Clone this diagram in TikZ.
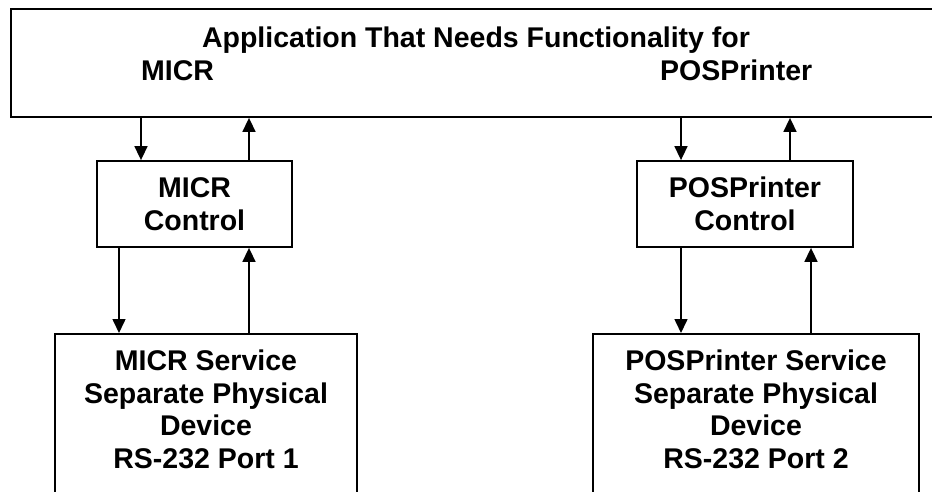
\documentclass[tikz,border=0pt]{standalone}
\usepackage{fontspec}
\setmainfont{Liberation Sans}
\usetikzlibrary{arrows.meta}
\begin{document}
\begin{tikzpicture}[x=1pt,y=-1pt,
  box/.style={draw=black, line width=1.8pt, rectangle, inner sep=0pt, align=center},
  lbl/.style={inner sep=0pt, font=\bfseries\fontsize{28.5}{32.5}\selectfont, align=center},
  arr/.style={line width=1.6pt, -{Triangle[length=14pt,width=13pt]}}]
\useasboundingbox (0,0) rectangle (932,491);
% top application box
\node[box, minimum width=939pt, minimum height=108pt] (app) at (480.5,63) {};
\node[lbl, anchor=base] (apptxt) at (476,47) {Application That Needs Functionality for};
\node[lbl, anchor=base west] (appmicr) at (141,80) {MICR};
\node[lbl, anchor=base west] (apppos) at (660,80) {POSPrinter};
% control boxes
\node[box, lbl, draw=black, line width=1.8pt, minimum width=195pt, minimum height=86pt] (mc) at (194.5,204) {MICR\\Control};
\node[box, lbl, draw=black, line width=1.8pt, minimum width=216pt, minimum height=86pt] (pc) at (745,204) {POSPrinter\\Control};
% service boxes (run past the lower edge of the picture)
\node[box, anchor=north, minimum width=302pt, minimum height=220pt] (ms) at (206,333) {};
\node[box, anchor=north, minimum width=326pt, minimum height=220pt] (ps) at (756,333) {};
\node[lbl, anchor=north] (mstxt) at (206,350) {MICR Service\\Separate Physical\\Device\\RS-232 Port 1};
\node[lbl, anchor=north] (pstxt) at (756,350) {POSPrinter Service\\Separate Physical\\Device\\RS-232 Port 2};
% x positions of connectors
\coordinate (xa) at (141,0);
\coordinate (xb) at (249,0);
\coordinate (xc) at (119,0);
\coordinate (xd) at (681,0);
\coordinate (xe) at (790,0);
\coordinate (xf) at (811,0);
% connectors
\draw[arr] (app.south -| xa) -- (mc.north -| xa);
\draw[arr] (mc.north -| xb) -- (app.south -| xb);
\draw[arr] (mc.south -| xc) -- (ms.north -| xc);
\draw[arr] (ms.north -| xb) -- (mc.south -| xb);
\draw[arr] (app.south -| xd) -- (pc.north -| xd);
\draw[arr] (pc.north -| xe) -- (app.south -| xe);
\draw[arr] (pc.south -| xd) -- (ps.north -| xd);
\draw[arr] (ps.north -| xf) -- (pc.south -| xf);
\end{tikzpicture}
\end{document}
